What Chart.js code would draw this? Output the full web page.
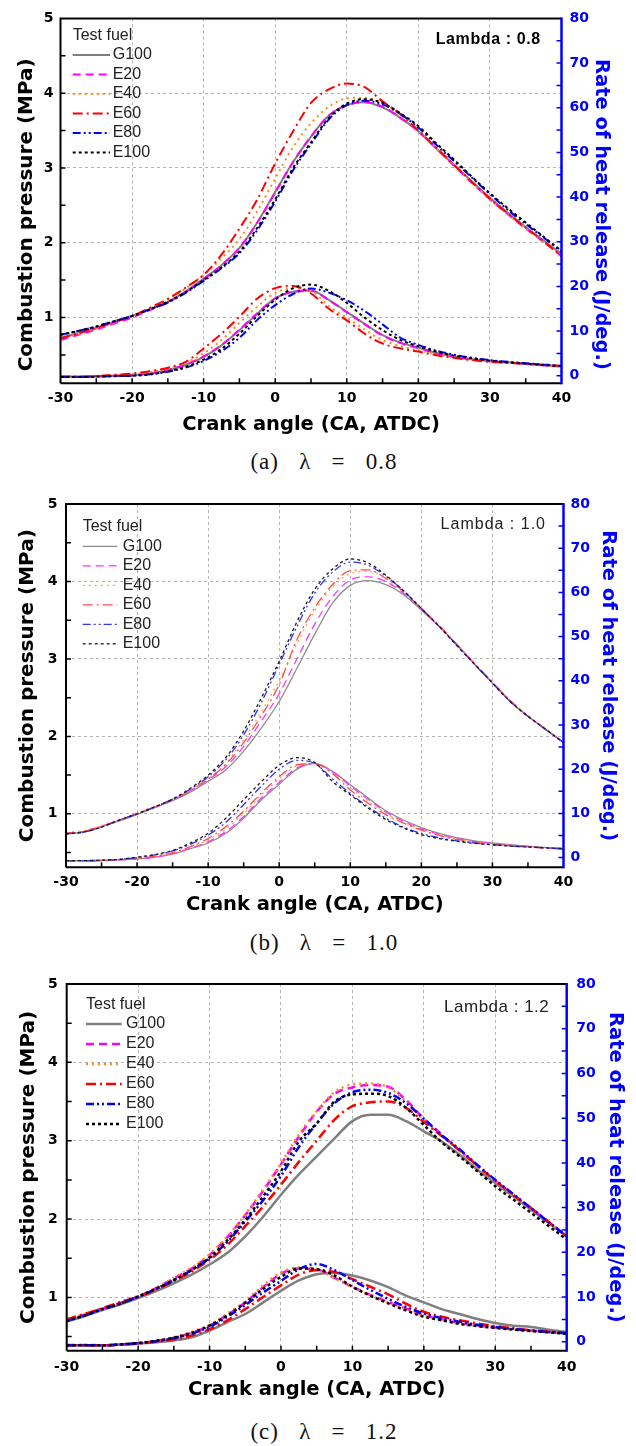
<!DOCTYPE html>
<html>
<head>
<meta charset="utf-8">
<script src="https://cdn.jsdelivr.net/npm/chart.js@4.4.1/dist/chart.umd.min.js"></script>
<style>
html,body{margin:0;padding:0;background:#fff;}
#wrap{position:relative;width:636px;height:1446px;overflow:hidden;background:#fff;}
#wrap canvas{position:absolute;left:0;}
.cap{position:absolute;left:6px;width:636px;text-align:center;font-family:"Liberation Serif","Times New Roman",serif;font-size:23px;letter-spacing:1px;color:#111;white-space:pre;line-height:24px;}
</style>
</head>
<body>
<div id="wrap">
  <canvas id="cA" width="636" height="445" style="top:0px"></canvas>
  <div class="cap" id="capA" style="top:450px"></div>
  <canvas id="cB" width="636" height="445" style="top:480px"></canvas>
  <div class="cap" id="capB" style="top:931px"></div>
  <canvas id="cC" width="636" height="445" style="top:960px"></canvas>
  <div class="cap" id="capC" style="top:1420px"></div>
</div>
<script>
// ---------------- DATA ----------------
const crankAngle = [-30,-27.5,-25,-22.5,-20,-17.5,-15,-12.5,-10,-7.5,-5,-2.5,0,2.5,5,7.5,10,12.5,15,17.5,20,22.5,25,27.5,30,32.5,35,37.5,40];
const fuels = ['G100','E20','E40','E60','E80','E100'];
const angleTicks = [-30,-20,-10,0,10,20,30,40];
const pressureTicks = [1,2,3,4,5];
const heatTicks = [0,10,20,30,40,50,60,70,80];
const legendTitle = 'Test fuel';
const lambdaLabels = ['Lambda : 0.8','Lambda : 1.0','Lambda : 1.2'];
const captions = ['(a)   \u03bb   =   0.8','(b)   \u03bb   =   1.0','(c)   \u03bb   =   1.2'];
const xTitle = 'Crank angle (CA, ATDC)';
const yTitle = 'Combustion pressure (MPa)';
const y1Title = 'Rate of heat release (J/deg.)';

// (a) lambda 0.8 - combustion pressure (MPa)
const pA_G100 = [0.73,0.79,0.86,0.94,1.02,1.11,1.21,1.35,1.52,1.70,1.93,2.27,2.68,3.08,3.42,3.70,3.84,3.88,3.81,3.67,3.49,3.26,3.04,2.82,2.60,2.40,2.21,2.03,1.85];
const pA_E20  = [0.70,0.77,0.84,0.92,1.00,1.10,1.20,1.34,1.51,1.70,1.93,2.27,2.67,3.08,3.42,3.70,3.84,3.88,3.82,3.67,3.49,3.26,3.03,2.80,2.58,2.38,2.19,2.01,1.82];
const pA_E40  = [0.71,0.78,0.85,0.93,1.02,1.12,1.23,1.39,1.57,1.79,2.05,2.42,2.86,3.28,3.60,3.82,3.93,3.94,3.86,3.70,3.50,3.26,3.03,2.80,2.58,2.38,2.19,2.01,1.83];
const pA_E60  = [0.72,0.79,0.86,0.94,1.02,1.13,1.25,1.40,1.57,1.84,2.19,2.58,3.06,3.49,3.87,4.05,4.13,4.08,3.89,3.72,3.50,3.27,3.04,2.81,2.59,2.39,2.20,2.02,1.82];
const pA_E80  = [0.77,0.82,0.88,0.95,1.02,1.11,1.20,1.33,1.49,1.66,1.86,2.17,2.55,2.97,3.32,3.65,3.84,3.90,3.85,3.72,3.54,3.31,3.09,2.87,2.65,2.44,2.25,2.07,1.88];
const pA_E100 = [0.77,0.82,0.88,0.95,1.02,1.11,1.21,1.34,1.50,1.67,1.88,2.20,2.58,3.00,3.34,3.67,3.86,3.92,3.87,3.73,3.56,3.33,3.11,2.88,2.66,2.46,2.27,2.08,1.89];
// (a) lambda 0.8 - rate of heat release (J/deg.)
const hA_G100 = [-0.2,-0.2,-0.1,0.0,0.1,0.5,1.3,2.4,4.2,6.8,10.2,13.9,17.3,18.8,19.1,17.0,14.3,11.6,9.1,7.4,6.3,5.1,4.3,3.7,3.3,3.0,2.7,2.4,2.2];
const hA_E20  = [-0.3,-0.3,-0.2,0.0,0.1,0.5,1.3,2.5,4.3,6.9,10.3,14.0,17.3,18.8,19.0,16.9,14.2,11.5,9.0,7.3,6.2,5.0,4.2,3.6,3.2,2.9,2.6,2.3,2.0];
const hA_E40  = [-0.2,-0.2,-0.1,0.1,0.3,0.8,1.6,2.9,5.0,8.0,11.8,15.5,18.5,19.5,19.0,15.6,13.0,10.3,8.0,6.6,5.7,4.8,4.1,3.6,3.2,2.9,2.6,2.3,2.1];
const hA_E60  = [-0.2,-0.2,-0.1,0.2,0.5,1.0,1.8,3.1,6.1,9.4,13.2,17.3,19.6,20.1,18.4,15.0,12.4,9.4,7.2,6.1,5.4,4.6,4.0,3.5,3.1,2.9,2.7,2.4,2.2];
const hA_E80  = [-0.3,-0.3,-0.2,-0.1,0.0,0.3,0.9,1.8,3.3,5.5,8.5,12.5,15.8,18.3,19.5,18.6,16.9,14.5,11.5,8.5,6.9,5.6,4.7,4.0,3.5,3.1,2.8,2.5,2.2];
const hA_E100 = [-0.3,-0.3,-0.2,-0.1,0.0,0.3,1.0,2.0,3.6,6.0,9.4,13.4,17.0,19.6,20.4,19.0,16.3,13.0,10.2,8.0,6.6,5.4,4.5,3.9,3.4,3.0,2.7,2.4,2.1];

// (b) lambda 1.0 - combustion pressure (MPa)
const pB_G100 = [0.74,0.765,0.83,0.91,0.99,1.08,1.17,1.28,1.42,1.57,1.81,2.11,2.45,2.88,3.32,3.72,3.95,4.01,3.96,3.83,3.63,3.42,3.18,2.93,2.69,2.45,2.26,2.09,1.92];
const pB_E20  = [0.75,0.775,0.84,0.92,1.00,1.09,1.18,1.30,1.44,1.61,1.87,2.20,2.55,3.00,3.45,3.80,4.02,4.06,4.00,3.85,3.64,3.42,3.18,2.93,2.69,2.46,2.26,2.09,1.92];
const pB_E40  = [0.76,0.785,0.85,0.93,1.01,1.10,1.19,1.31,1.46,1.65,1.96,2.32,2.72,3.20,3.62,3.93,4.10,4.13,4.05,3.87,3.66,3.43,3.19,2.94,2.70,2.47,2.27,2.10,1.93];
const pB_E60  = [0.75,0.775,0.84,0.92,1.00,1.09,1.18,1.30,1.45,1.64,1.92,2.27,2.67,3.25,3.66,3.96,4.14,4.15,4.04,3.87,3.65,3.43,3.19,2.94,2.70,2.46,2.26,2.09,1.92];
const pB_E80  = [0.74,0.765,0.83,0.92,1.00,1.09,1.19,1.32,1.48,1.70,2.02,2.44,2.93,3.42,3.85,4.12,4.25,4.21,4.07,3.88,3.65,3.42,3.18,2.93,2.69,2.45,2.26,2.09,1.92];
const pB_E100 = [0.74,0.765,0.83,0.92,1.00,1.09,1.19,1.33,1.50,1.73,2.07,2.50,2.97,3.48,3.90,4.16,4.29,4.24,4.08,3.88,3.65,3.42,3.17,2.93,2.69,2.45,2.26,2.09,1.92];
// (b) lambda 1.0 - rate of heat release (J/deg.)
const hB_G100 = [-0.7,-0.7,-0.6,-0.5,-0.3,0.1,0.8,2.0,3.3,5.5,8.9,13.1,16.6,20.0,21.3,19.5,16.5,13.5,10.6,8.5,6.8,5.5,4.5,3.8,3.3,2.9,2.6,2.3,2.1];
const hB_E20  = [-0.8,-0.8,-0.7,-0.5,-0.3,0.1,0.9,2.1,3.6,5.9,9.3,13.5,17.0,20.3,21.3,19.4,16.2,13.2,10.3,8.2,6.5,5.3,4.3,3.6,3.2,2.8,2.5,2.2,2.0];
const hB_E40  = [-0.8,-0.8,-0.7,-0.5,-0.2,0.3,1.1,2.4,4.0,6.5,10.0,14.2,17.8,20.8,21.3,19.2,15.8,12.8,10.0,8.0,6.3,5.1,4.2,3.5,3.1,2.8,2.5,2.2,2.0];
const hB_E60  = [-0.8,-0.8,-0.7,-0.5,-0.2,0.3,1.1,2.5,4.3,7.0,10.5,14.6,18.3,21.0,21.2,19.0,15.3,12.3,9.7,7.8,6.2,5.0,4.1,3.5,3.0,2.7,2.4,2.1,1.9];
const hB_E80  = [-0.7,-0.7,-0.6,-0.4,0.0,0.6,1.5,3.0,5.1,8.0,12.0,16.2,20.0,22.0,21.3,17.8,14.5,11.5,8.9,6.9,5.5,4.5,3.8,3.3,2.9,2.6,2.4,2.2,2.0];
const hB_E100 = [-0.7,-0.7,-0.6,-0.4,0.1,0.7,1.6,3.3,5.5,8.9,13.1,17.2,20.9,22.6,21.5,17.2,14.2,11.2,8.6,6.7,5.2,4.3,3.7,3.2,2.9,2.6,2.4,2.2,2.0];

// (c) lambda 1.2 - combustion pressure (MPa)
const pC_G100 = [0.69,0.76,0.84,0.91,0.99,1.08,1.18,1.29,1.42,1.57,1.78,2.03,2.31,2.57,2.80,3.03,3.25,3.33,3.33,3.25,3.12,2.99,2.82,2.63,2.46,2.29,2.12,1.95,1.78];
const pC_E20  = [0.71,0.78,0.86,0.93,1.01,1.12,1.24,1.37,1.54,1.77,2.05,2.36,2.70,3.05,3.37,3.60,3.68,3.71,3.69,3.52,3.28,3.08,2.87,2.68,2.49,2.31,2.14,1.96,1.78];
const pC_E40  = [0.72,0.79,0.86,0.94,1.02,1.12,1.25,1.38,1.55,1.78,2.06,2.38,2.71,3.08,3.38,3.62,3.72,3.73,3.68,3.50,3.26,3.06,2.87,2.67,2.48,2.30,2.13,1.95,1.77];
const pC_E60  = [0.72,0.79,0.86,0.94,1.01,1.10,1.21,1.33,1.48,1.67,1.91,2.16,2.44,2.73,3.00,3.27,3.44,3.49,3.50,3.42,3.24,3.06,2.88,2.68,2.49,2.31,2.14,1.96,1.78];
const pC_E80  = [0.70,0.77,0.85,0.92,1.01,1.11,1.22,1.35,1.50,1.71,1.97,2.24,2.55,2.92,3.22,3.48,3.62,3.65,3.61,3.48,3.28,3.07,2.89,2.69,2.50,2.32,2.14,1.96,1.78];
const pC_E100 = [0.70,0.77,0.85,0.92,1.01,1.11,1.22,1.35,1.51,1.73,1.99,2.29,2.61,2.99,3.22,3.50,3.59,3.60,3.57,3.42,3.20,2.98,2.80,2.61,2.42,2.25,2.08,1.91,1.74];
// (c) lambda 1.2 - rate of heat release (J/deg.)
const hC_G100 = [-0.8,-0.8,-0.8,-0.6,-0.4,-0.1,0.3,1.0,2.5,4.4,6.2,8.8,11.4,13.7,15.1,15.4,14.8,13.7,12.2,10.3,8.8,7.3,6.2,5.1,4.2,3.6,3.3,2.7,2.2];
const hC_E20  = [-0.7,-0.7,-0.8,-0.6,-0.3,0.2,0.9,2.0,3.6,6.0,8.8,12.2,15.2,16.4,16.2,14.3,12.3,10.5,8.9,7.4,5.9,5.0,4.2,3.6,3.2,2.8,2.5,2.2,1.9];
const hC_E40  = [-0.7,-0.7,-0.8,-0.6,-0.3,0.2,1.0,2.2,3.8,6.3,9.1,12.6,15.5,16.6,16.3,14.2,12.2,10.4,8.8,7.3,5.8,4.9,4.1,3.5,3.1,2.7,2.4,2.1,1.8];
const hC_E60  = [-0.8,-0.8,-0.8,-0.7,-0.4,0.0,0.5,1.4,2.8,4.8,7.3,10.0,12.6,15.0,16.0,15.6,14.0,12.3,10.6,8.5,6.7,5.6,4.8,4.1,3.5,3.0,2.6,2.3,2.0];
const hC_E80  = [-0.8,-0.8,-0.8,-0.6,-0.3,0.1,0.8,1.8,3.3,5.6,8.2,11.0,13.6,16.2,17.4,16.0,13.8,11.6,9.6,7.8,6.3,5.3,4.5,3.8,3.3,2.9,2.5,2.2,1.9];
const hC_E100 = [-0.8,-0.8,-0.8,-0.6,-0.3,0.2,0.9,2.0,3.6,5.9,8.7,11.8,14.5,16.4,16.2,14.8,12.3,10.3,8.6,7.0,5.6,4.8,4.0,3.5,3.1,2.7,2.4,2.1,1.8];

// ---------------- STYLE / LAYOUT ----------------
const dashes = [[], [8,5], [2,4], [10,4,2,4], [8,3,2,3,2,3], [3,3]];
const colorsStrong = ['#7f7f7f','#ff00ff','#ff8c1a','#ff0000','#0000ff','#000000'];
const colorsLight  = ['#8c8c8c','#ff33ff','#ffa64d','#ff4d4d','#3333ff','#1a1a1a'];

const panels = [
  { canvas:'cA', cap:'capA', pressure:[pA_G100,pA_E20,pA_E40,pA_E60,pA_E80,pA_E100], heat:[hA_G100,hA_E20,hA_E40,hA_E60,hA_E80,hA_E100],
    chartTop:18.4, leftW:60.5, rightW:74.5, xH:61.7, yMin:0.12, y1Min:-1.7,
    lw:2, colors:colorsStrong, tickPadL:7, tickPadR:8, tickPadX:7,
    yTitlePad:14.4, y1TitlePad:23.3, xTitlePad:8.3, shift:4,
    legend:{tx:12.2, ty:17.3, y0:36.6, dy:19.5, x0:12.2, x1:49.5, lx:52.2},
    lam:{dx:-20.8, dy:21.6, font:'bold 16px "Liberation Sans", Arial, sans-serif', sp:'0.6px', color:'#000'} },
  { canvas:'cB', cap:'capB', pressure:[pB_G100,pB_E20,pB_E40,pB_E60,pB_E80,pB_E100], heat:[hB_G100,hB_E20,hB_E40,hB_E60,hB_E80,hB_E100],
    chartTop:24, leftW:66, rightW:72.5, xH:57.7, yMin:0.31, y1Min:-2.2,
    lw:1.3, colors:colorsLight, tickPadL:8.5, tickPadR:7, tickPadX:7,
    yTitlePad:15.8, y1TitlePad:16.3, xTitlePad:8.3, shift:0,
    legend:{tx:16.7, ty:23, y0:42.3, dy:19.5, x0:16.7, x1:51.3, lx:56.7},
    lam:{dx:-17.5, dy:20.7, font:'16px "Liberation Sans", Arial, sans-serif', sp:'1px', color:'#222'} },
  { canvas:'cC', cap:'capC', pressure:[pC_G100,pC_E20,pC_E40,pC_E60,pC_E80,pC_E100], heat:[hC_G100,hC_E20,hC_E40,hC_E60,hC_E80,hC_E100],
    chartTop:24, leftW:66.7, rightW:69.3, xH:54.3, yMin:0.32, y1Min:-2.0,
    lw:2.5, colors:colorsStrong, tickPadL:9, tickPadR:9.5, tickPadX:8,
    yTitlePad:16.5, y1TitlePad:9.3, xTitlePad:3.3, shift:0,
    legend:{tx:19.3, ty:20.7, y0:40, dy:20, x0:19.3, x1:55, lx:59.3},
    lam:{dx:-17.4, dy:23.3, font:'17px "Liberation Sans", Arial, sans-serif', sp:'0.5px', color:'#222'} }
];

const tickFont = {family:'"DejaVu Sans", sans-serif', size:14, weight:'bold'};
const titleFontFamily = '"DejaVu Sans", sans-serif';

const decor = {
  id:'decor',
  afterDraw(chart, args, o){
    const ctx = chart.ctx, ca = chart.chartArea;
    const xs = chart.scales.x, ys = chart.scales.y, y1 = chart.scales.y1;
    ctx.save();
    // inward ticks
    ctx.lineWidth = 1.5; ctx.strokeStyle = '#000'; ctx.setLineDash([]);
    ctx.beginPath();
    for (let v = -25; v < 40; v += 5) { const px = xs.getPixelForValue(v); ctx.moveTo(px, ca.bottom); ctx.lineTo(px, ca.bottom - 5); }
    for (let v = 0.5; v < 5; v += 0.5) { if (v <= ys.min) continue; const py = ys.getPixelForValue(v); ctx.moveTo(ca.left, py); ctx.lineTo(ca.left + 5, py); }
    ctx.stroke();
    ctx.strokeStyle = '#0000ff'; ctx.beginPath();
    for (let v = 0; v < 80; v += 5) { const py = y1.getPixelForValue(v); ctx.moveTo(ca.right, py); ctx.lineTo(ca.right - 5, py); }
    ctx.stroke();
    // frame
    ctx.lineWidth = 2; ctx.strokeStyle = '#000';
    ctx.beginPath();
    ctx.moveTo(ca.left, ca.bottom); ctx.lineTo(ca.left, ca.top); ctx.lineTo(ca.right, ca.top);
    ctx.moveTo(ca.left, ca.bottom); ctx.lineTo(ca.right, ca.bottom);
    ctx.stroke();
    ctx.lineWidth = 2.5; ctx.strokeStyle = '#0000ff';
    ctx.beginPath(); ctx.moveTo(ca.right, ca.top - 1); ctx.lineTo(ca.right, ca.bottom + 1); ctx.stroke();
    // legend
    const L = o.legend;
    ctx.font = '16px "Liberation Sans", Arial, sans-serif';
    ctx.textBaseline = 'middle'; ctx.textAlign = 'left'; ctx.fillStyle = '#222';
    ctx.fillText(legendTitle, ca.left + L.tx, ca.top + L.ty);
    for (let i = 0; i < fuels.length; i++) {
      const ds = chart.data.datasets[i];
      const y = ca.top + L.y0 + i * L.dy;
      ctx.save();
      ctx.strokeStyle = ds.borderColor; ctx.lineWidth = ds.borderWidth; ctx.setLineDash(ds.borderDash || []);
      ctx.beginPath(); ctx.moveTo(ca.left + L.x0, y); ctx.lineTo(ca.left + L.x1, y); ctx.stroke();
      ctx.restore();
      ctx.fillStyle = '#222';
      ctx.fillText(ds.label, ca.left + L.lx, y);
    }
    // lambda label
    const M = o.lam;
    ctx.font = M.font; ctx.fillStyle = M.color; ctx.textAlign = 'right';
    try { ctx.letterSpacing = M.sp; } catch(e) {}
    ctx.fillText(o.lamText, ca.right + M.dx, ca.top + M.dy);
    try { ctx.letterSpacing = '0px'; } catch(e) {}
    ctx.restore();
  }
};

panels.forEach((P, k) => {
  document.getElementById(P.cap).textContent = captions[k];
  const datasets = [];
  const mk = (arr, i, axis) => ({
    label: fuels[i],
    data: crankAngle.map((a, j) => ({x: a, y: arr[j]})),
    yAxisID: axis,
    borderColor: P.colors[i],
    borderWidth: P.lw,
    borderDash: dashes[i],
    borderCapStyle: 'butt',
    pointRadius: 0,
    fill: false,
    cubicInterpolationMode: 'monotone',
    order: 6 - i
  });
  P.pressure.forEach((arr, i) => datasets.push(mk(arr, i, 'y')));
  P.heat.forEach((arr, i) => datasets.push(mk(arr, i, 'y1')));
  const sp = ' '.repeat(P.shift);
  new Chart(document.getElementById(P.canvas), {
    type: 'line',
    data: { datasets },
    plugins: [decor],
    options: {
      responsive: false,
      animation: false,
      devicePixelRatio: 1,
      layout: { padding: { top: P.chartTop, left: 0, right: 0, bottom: 0 } },
      plugins: {
        legend: { display: false },
        tooltip: { enabled: false },
        decor: { legend: P.legend, lam: P.lam, lamText: lambdaLabels[k] }
      },
      scales: {
        x: {
          type: 'linear', position: 'bottom', min: -30, max: 40,
          afterBuildTicks: s => { s.ticks = angleTicks.map(v => ({value: v})); },
          afterFit: s => { s.height = P.xH; },
          ticks: { font: tickFont, color: '#000', padding: P.tickPadX, autoSkip: false, maxRotation: 0 },
          grid: { color: '#b4b4b4', lineWidth: 1, drawTicks: false },
          border: { display: false, dash: [3,3] },
          title: { display: true, text: xTitle, color: '#000', font: {family: titleFontFamily, size: 19.5, weight: 'bold'}, padding: {top: 0, bottom: P.xTitlePad} }
        },
        y: {
          type: 'linear', position: 'left', min: P.yMin, max: 5,
          afterBuildTicks: s => { s.ticks = pressureTicks.map(v => ({value: v})); },
          afterFit: s => { s.width = P.leftW; },
          ticks: { font: tickFont, color: '#000', padding: P.tickPadL, autoSkip: false },
          grid: { color: '#b4b4b4', lineWidth: 1, drawTicks: false },
          border: { display: false, dash: [3,3] },
          title: { display: true, text: yTitle + sp, color: '#000', font: {family: titleFontFamily, size: 20, weight: 'bold'}, padding: {top: P.yTitlePad, bottom: 0} }
        },
        y1: {
          type: 'linear', position: 'right', min: P.y1Min, max: 80,
          afterBuildTicks: s => { s.ticks = heatTicks.map(v => ({value: v})); },
          afterFit: s => { s.width = P.rightW; },
          ticks: { font: tickFont, color: '#0000ff', padding: P.tickPadR, autoSkip: false },
          grid: { display: false, drawTicks: false },
          border: { display: false },
          title: { display: true, text: sp + y1Title, color: '#0000ff', font: {family: titleFontFamily, size: 19.5, weight: 'bold'}, padding: {top: P.y1TitlePad, bottom: 0} }
        }
      }
    }
  });
});
</script>
</body>
</html>
